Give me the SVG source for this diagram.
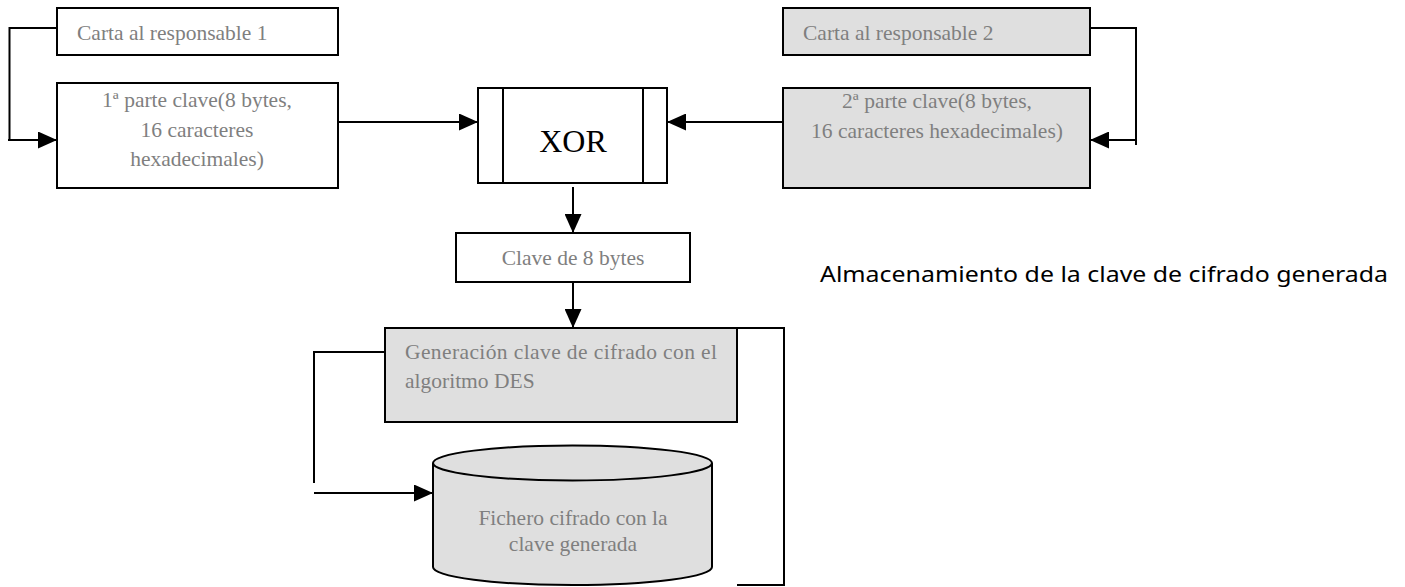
<svg xmlns="http://www.w3.org/2000/svg" width="1405" height="587" viewBox="0 0 1405 587">
<style>
.box{fill:#fff;stroke:#000;stroke-width:2}
.gbox{fill:#dfdfdf;stroke:#000;stroke-width:2}
.t{font-family:"Liberation Serif",serif;font-size:21.5px;fill:#7f7f7f}
.c{text-anchor:middle}
.ln{fill:none;stroke:#000;stroke-width:2}
</style>
<defs>
<marker id="ah" markerWidth="19" markerHeight="17" refX="19" refY="8.5" orient="auto" markerUnits="userSpaceOnUse">
<path d="M0,0 L19,8.5 L0,17 Z" fill="#000"/>
</marker>
</defs>
<g id="connectors">
<polyline class="ln" points="57,28 9.5,28 9.5,140"/>
<line class="ln" x1="8" y1="140" x2="57" y2="140" marker-end="url(#ah)"/>
<line class="ln" x1="338" y1="122" x2="478" y2="122" marker-end="url(#ah)"/>
<polyline class="ln" points="1090,28 1136,28 1136,145"/>
<line class="ln" x1="1136" y1="140" x2="1090" y2="140" marker-end="url(#ah)"/>
<line class="ln" x1="783" y1="122" x2="667" y2="122" marker-end="url(#ah)"/>
<line class="ln" x1="573" y1="187" x2="573" y2="233" marker-end="url(#ah)"/>
<line class="ln" x1="573" y1="282" x2="573" y2="328" marker-end="url(#ah)"/>
<polyline class="ln" points="385,352 314,352 314,483"/>
<line class="ln" x1="314" y1="493" x2="433" y2="493" marker-end="url(#ah)"/>
<polyline class="ln" points="737,328 784,328 784,585 737,585"/>
</g>
<g id="carta1">
<rect class="box" x="57" y="8" width="281" height="47"/>
<text class="t" x="77" y="40">Carta al responsable 1</text>
</g>
<g id="parte1">
<rect class="box" x="57" y="83" width="281" height="105"/>
<text class="t c" x="197" y="107">1ª parte clave(8 bytes,</text>
<text class="t c" x="197" y="137">16 caracteres</text>
<text class="t c" x="197" y="166">hexadecimales)</text>
</g>
<g id="xor">
<rect class="box" x="478" y="88" width="189" height="95"/>
<line class="ln" x1="503" y1="88" x2="503" y2="183"/>
<line class="ln" x1="643" y1="88" x2="643" y2="183"/>
<text x="573" y="152" text-anchor="middle" font-family="Liberation Serif,serif" font-size="32" fill="#000">XOR</text>
</g>
<g id="carta2">
<rect class="gbox" x="783" y="8" width="307" height="47"/>
<text class="t" x="803" y="40">Carta al responsable 2</text>
</g>
<g id="parte2">
<rect class="gbox" x="783" y="88" width="307" height="100"/>
<text class="t c" x="937" y="108">2ª parte clave(8 bytes,</text>
<text class="t c" x="937" y="138">16 caracteres hexadecimales)</text>
</g>
<g id="clave8">
<rect class="box" x="456" y="233" width="234" height="49"/>
<text class="t c" x="573" y="265">Clave de 8 bytes</text>
</g>
<g id="generacion">
<rect class="gbox" x="385" y="328" width="352" height="94"/>
<text class="t" x="405" y="359" textLength="312" lengthAdjust="spacing">Generación clave de cifrado con el</text>
<text class="t" x="405" y="388">algoritmo DES</text>
</g>
<g id="fichero">
<path d="M433,463 L433,567 A139.5,18 0 0 0 712,567 L712,463" fill="#dfdfdf" stroke="#000" stroke-width="2"/>
<ellipse cx="572.5" cy="463" rx="139.5" ry="17.5" fill="#dfdfdf" stroke="#000" stroke-width="2"/>
<text class="t c" x="573" y="525">Fichero cifrado con la</text>
<text class="t c" x="573" y="551">clave generada</text>
</g>
<g id="almacenamiento">
<text x="820" y="282" font-family="Noto Sans,Liberation Sans,sans-serif" font-size="21" fill="#000" textLength="568" lengthAdjust="spacingAndGlyphs">Almacenamiento de la clave de cifrado generada</text>
</g>
</svg>
